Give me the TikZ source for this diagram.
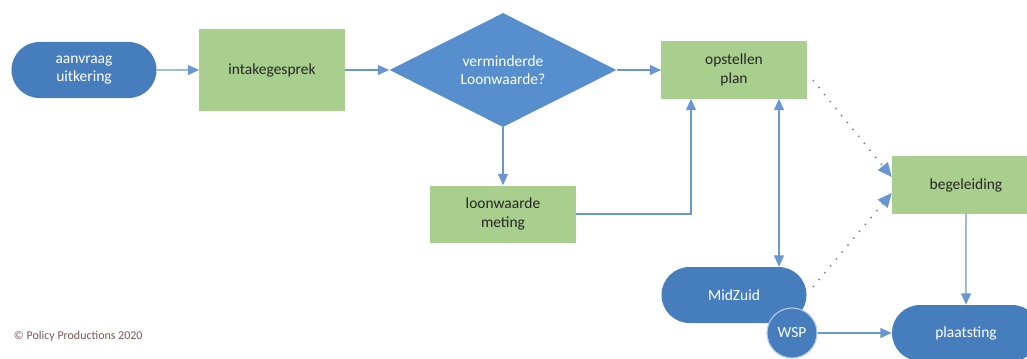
\documentclass[tikz,border=0pt]{standalone}
\usepackage{fontspec}
\setmainfont{Carlito}
\usetikzlibrary{calc}
\usetikzlibrary{arrows.meta,shapes.geometric,shapes.misc}

\definecolor{pillblue}{RGB}{70,125,188}
\definecolor{diablue}{RGB}{86,142,206}
\definecolor{boxgreen}{RGB}{168,207,142}
\definecolor{linkblue}{RGB}{104,150,208}
\definecolor{dotgrey}{RGB}{110,120,135}
\definecolor{copyred}{RGB}{125,85,85}

\tikzset{
  pill/.style={rounded rectangle, fill=pillblue, text=white, align=center,
    minimum width=3.625cm, minimum height=1.4cm, inner sep=0pt},
  greenbox/.style={rectangle, fill=boxgreen, text=black!85, align=center,
    minimum width=3.625cm, minimum height=1.425cm, inner sep=0pt},
  link/.style={draw=linkblue, line width=0.9pt,
    -{Triangle[length=8pt,width=7pt]}},
  dotlink/.style={draw=dotgrey, line width=1pt, dash pattern=on 1pt off 5.4pt,
    -{Triangle[length=10pt,width=9pt,color=linkblue,fill=linkblue]}}
}

\begin{document}
\begin{tikzpicture}[x=0.025cm, y=-0.025cm, font=\fontsize{11}{13}\selectfont]
    \useasboundingbox (0,0) rectangle (1027,358);
    \node[pill] (aanvraag) at (84,70) {aanvraag\\uitkering};
    \node[greenbox, minimum height=2.025cm] (intake) at (272,70) {intakegesprek};
    \node[diamond, fill=diablue, text=white, align=center, inner sep=0pt,
      minimum width=5.675cm, minimum height=2.85cm] (loonw) at (503,70) {verminderde\\Loonwaarde?};
    \node[greenbox] (plan) at (734,70) {opstellen\\plan};
    \node[greenbox] (meting) at (503,214) {loonwaarde\\meting};
    \node[greenbox, minimum width=3.7cm] (begel) at (966,185) {begeleiding};
    \node[pill] (midzuid) at (734,295) {MidZuid};
    \node[circle, fill=pillblue, draw=white!60!pillblue, line width=0.8pt, text=white,
      minimum size=1.25cm, inner sep=0pt] (wsp) at (792,333) {WSP};
    \node[pill, minimum width=3.7cm] (plaats) at (966,333) {plaatsting};
    \node[anchor=west, text=copyred, font=\fontsize{8.5}{10}\selectfont] (copy) at (9,336) {© Policy Productions 2020};

    \draw[link] (aanvraag) -- (intake);
    \draw[link] (intake) -- (loonw);
    \draw[link] (loonw) -- (plan);
    \draw[link] (loonw) -- (meting);
    \draw[link] (meting.east) -| ($(plan.south)+(-43,0)$);
    \draw[link, {Triangle[length=8pt,width=7pt]}-{Triangle[length=8pt,width=7pt]}]
      ($(plan.south)+(45,0)$) -- ($(midzuid.north)+(45,0)$);
    \draw[dotlink] ($(plan.east)+(6,10)$) -- ($(begel.west)+(0,-8)$);
    \draw[dotlink] ($(midzuid.east)+(6,-8)$) -- ($(begel.west)+(0,8)$);
    \draw[link] (begel) -- (plaats);
    \draw[link] (wsp) -- (plaats);
  \end{tikzpicture}
\end{document}
